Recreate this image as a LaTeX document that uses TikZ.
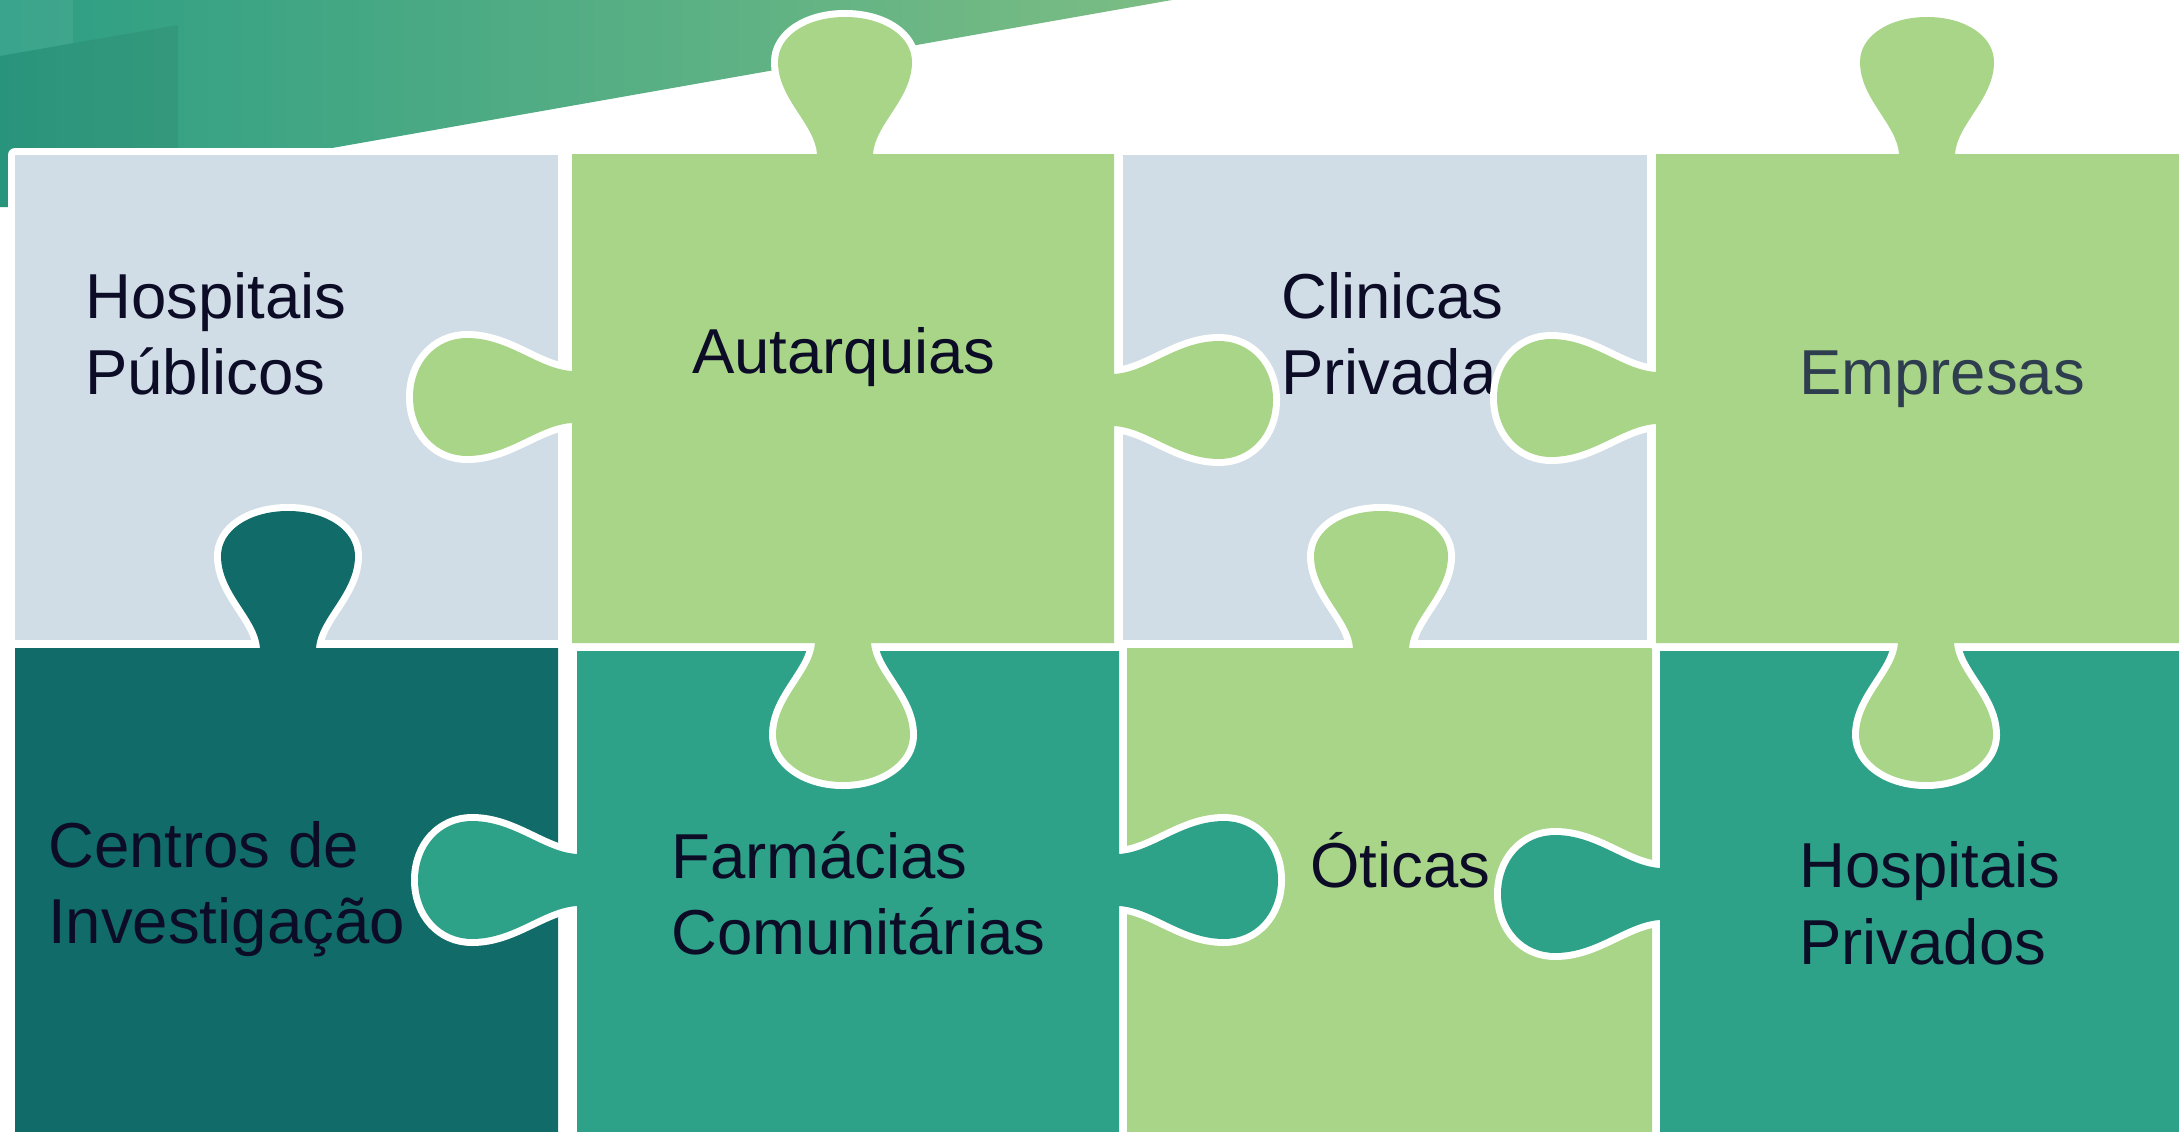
\documentclass[tikz,border=0pt]{standalone}
\usepackage{fontspec}
\setmainfont{Liberation Sans}
\definecolor{lblue}{HTML}{D0DDE6}
\definecolor{lgreen}{HTML}{A8D588}
\definecolor{dteal}{HTML}{116B68}
\definecolor{mteal}{HTML}{2DA288}
\definecolor{ink}{HTML}{0C0C26}
\definecolor{slate}{HTML}{2F3E4F}
\definecolor{bgL}{HTML}{2C9E84}
\definecolor{bgR}{HTML}{7CBD84}
\tikzset{
  piece/.style={fill=#1, preaction={draw=white, line width=14pt}},
  lbl/.style={anchor=base west, inner sep=0pt, font=\fontsize{63.5}{76}\selectfont, text=ink},
  tabU/.style 2 args={insert path={-- ({#1-28},#2) .. controls ({#1-30},{#2-30}) and ({#1-67},{#2-55}) .. ({#1-67},{#2-92}) .. controls ({#1-67},{#2-118}) and ({#1-38},{#2-137}) .. ({#1},{#2-137}) .. controls ({#1+38},{#2-137}) and ({#1+67},{#2-118}) .. ({#1+67},{#2-92}) .. controls ({#1+67},{#2-55}) and ({#1+30},{#2-30}) .. ({#1+28},#2)}},
  tabD/.style 2 args={insert path={-- ({#1+28},#2) .. controls ({#1+30},{#2+30}) and ({#1+67},{#2+55}) .. ({#1+67},{#2+92}) .. controls ({#1+67},{#2+118}) and ({#1+38},{#2+139}) .. ({#1},{#2+139}) .. controls ({#1-38},{#2+139}) and ({#1-67},{#2+118}) .. ({#1-67},{#2+92}) .. controls ({#1-67},{#2+55}) and ({#1-30},{#2+30}) .. ({#1-28},#2)}},
  tabR/.style 2 args={insert path={-- (#2,{#1-26}) .. controls ({#2+34},{#1-28}) and ({#2+63},{#1-59}) .. ({#2+105},{#1-59}) .. controls ({#2+136},{#1-59}) and ({#2+159},{#1-34}) .. ({#2+159},#1) .. controls ({#2+159},{#1+34}) and ({#2+136},{#1+59}) .. ({#2+105},{#1+59}) .. controls ({#2+63},{#1+59}) and ({#2+34},{#1+28}) .. (#2,{#1+26})}},
  tabL/.style 2 args={insert path={-- (#2,{#1+26}) .. controls ({#2-34},{#1+28}) and ({#2-63},{#1+59}) .. ({#2-105},{#1+59}) .. controls ({#2-136},{#1+59}) and ({#2-159},{#1+34}) .. ({#2-159},#1) .. controls ({#2-159},{#1-34}) and ({#2-136},{#1-59}) .. ({#2-105},{#1-59}) .. controls ({#2-63},{#1-59}) and ({#2-34},{#1-28}) .. (#2,{#1-26})}}
}
\begin{document}
\begin{tikzpicture}[x=1pt, y=-1pt, line join=round]
\useasboundingbox (0,0) rectangle (2179,1132);
\clip (0,0) rectangle (2179,1132);
\fill[white] (0,0) rectangle (2179,1132);
% background band
\shade[left color=bgL, right color=bgR] (0,0) -- (1172,0) -- (332,148) -- (20,148) -- (20,207) -- (0,207) -- cycle;
\begin{scope}
  \clip (0,0) -- (1172,0) -- (332,148) -- (20,148) -- (20,207) -- (0,207) -- cycle;
  \fill[black, opacity=0.06] (0,56) -- (178,25) -- (178,210) -- (0,210) -- cycle;
  \fill[white, opacity=0.07] (0,0) -- (73,0) -- (73,43) -- (0,56) -- cycle;
\end{scope}
% pieces
\path[piece=lblue] (15,155) -- (558,155) -- (558,640) -- (15,640) -- cycle;
\path[piece=lblue] (1123,155) -- (1647,155) -- (1647,640) -- (1123,640) -- cycle;
\path[piece=dteal] (15,648) [tabU={288}{648}] -- (558,648) -- (558,1150) -- (15,1150) -- cycle;
\path[piece=lgreen] (1127,648) [tabU={1381}{648}] -- (1652,648) -- (1652,1150) -- (1127,1150) -- cycle;
\path[piece=mteal] (577,651) -- (1119,651) [tabR={880}{1119}] -- (1119,1150) -- (577,1150) [tabL={880}{577}] -- cycle;
\path[piece=mteal] (1660,651) -- (2190,651) -- (2190,1150) -- (1660,1150) [tabL={894}{1660}] -- cycle;
\path[piece=lgreen] (572,154) [tabU={845}{154}] -- (1114,154) [tabR={400}{1114}] -- (1114,643) [tabD={843}{643}] -- (572,643) [tabL={397}{572}] -- cycle;
\node[lbl] (cp1) at (1281,318) {Clinicas};
\node[lbl] (cp2) at (1281,394) {Privada};
\path[piece=lgreen] (1656,154) [tabU={1927}{154}] -- (2190,154) -- (2190,643) [tabD={1926}{643}] -- (1656,643) [tabL={398}{1656}] -- cycle;
% labels
\node[lbl] (hp1) at (85,318) {Hospitais};
\node[lbl] (hp2) at (85,394) {Públicos};
\node[lbl] (aut) at (692,373) {Autarquias};
\node[lbl, text=slate] (emp) at (1799,394) {Empresas};
\node[lbl] (ci1) at (48,867) {Centros de};
\node[lbl] (ci2) at (48,943) {Investigação};
\node[lbl] (fc1) at (671,878) {Farmácias};
\node[lbl] (fc2) at (671,954) {Comunitárias};
\node[lbl] (oti) at (1310,887) {Óticas};
\node[lbl] (hv1) at (1799,887) {Hospitais};
\node[lbl] (hv2) at (1799,964) {Privados};
\end{tikzpicture}
\end{document}
